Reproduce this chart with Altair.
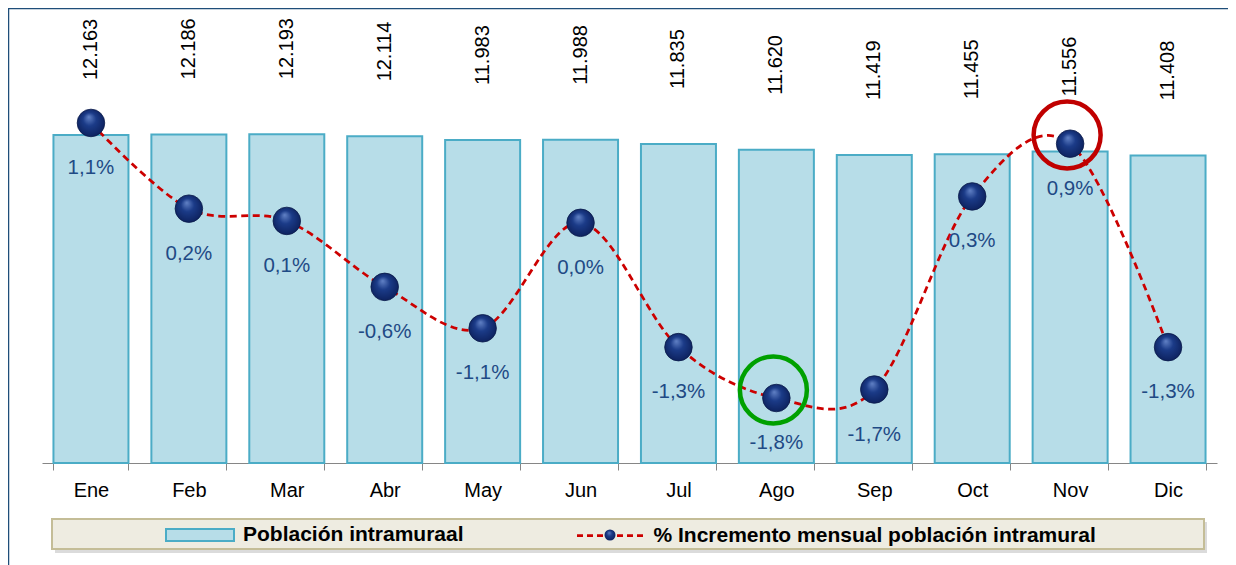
import altair as alt
import pandas as pd

# ---- datos ----
meses = ["Ene", "Feb", "Mar", "Abr", "May", "Jun", "Jul", "Ago", "Sep", "Oct", "Nov", "Dic"]
poblacion = [12163, 12186, 12193, 12114, 11983, 11988, 11835, 11620, 11419, 11455, 11556, 11408]
incremento = [1.10, 0.19, 0.06, -0.64, -1.08, 0.04, -1.28, -1.82, -1.73, 0.32, 0.88, -1.28]
serie_barras = "Población intramuraal"
serie_linea = "% Incremento mensual población intramural"
resaltado_mes = ["Ago", "Nov"]
resaltado_valor = [-1.735, 0.972]
resaltado_tipo = ["mínimo", "máximo"]
resaltado_color = ["#00A000", "#C00000"]

df = pd.DataFrame({"mes": meses, "pob": poblacion, "pct": incremento})
df_res = pd.DataFrame({"mes": resaltado_mes, "pct": resaltado_valor, "tipo": resaltado_tipo})
one = pd.DataFrame({"k": [0]})

W, H = 1175, 443
FONT = "Liberation Sans"

x = alt.X(
    "mes:N", sort=meses,
    scale=alt.Scale(domain=meses, paddingInner=0.234, paddingOuter=0.117),
    axis=alt.Axis(title=None, labelAngle=0, labelFontSize=20, labelColor="black",
                  labelFont=FONT, labelPadding=10, tickSize=7, tickColor="#868686",
                  domainColor="#868686", tickBand="extent", grid=False),
)
ybar = alt.Y("pob:Q", scale=alt.Scale(domain=[0, 16430], nice=False, zero=True), axis=None)
ypct = alt.Y("pct:Q", scale=alt.Scale(domain=[-2.51, 2.193], nice=False, zero=False), axis=None)

base = alt.Chart(df)

legend_common = dict(orient="none", title=None, labelFont=FONT, labelFontSize=21,
                     labelFontWeight="bold", labelColor="black", labelOffset=8, labelLimit=0)

bars = base.transform_calculate(sb=f"'{serie_barras}'").mark_bar(
    stroke="#4BACC6", strokeWidth=2
).encode(
    x=x, y=ybar,
    fill=alt.Fill("sb:N", scale=alt.Scale(domain=[serie_barras], range=["#B7DDE8"]),
                  legend=alt.Legend(legendX=123, legendY=480,
                                    symbolType="M-1,-0.18H1V0.18H-1Z", symbolSize=4624,
                                    symbolStrokeColor="#4BACC6", symbolStrokeWidth=2,
                                    symbolFillColor="#B7DDE8", **legend_common)),
)

bar_lbl = base.transform_calculate(
    t="replace(format(datum.pob, ','), ',', '.')"
).mark_text(angle=270, align="left", baseline="middle", dx=55, fontSize=20,
            font=FONT, color="black").encode(x=x, y=ybar, text="t:N")

line = base.transform_calculate(sl=f"'{serie_linea}'").mark_line(
    interpolate="cardinal", strokeDash=[7, 4.5], strokeWidth=2.75
).encode(
    x=x, y=ypct,
    stroke=alt.Stroke("sl:N", scale=alt.Scale(domain=[serie_linea], range=["#CC0000"]),
                      legend=alt.Legend(legendX=533.5, legendY=480.5, symbolType="stroke",
                                        symbolSize=4489, symbolStrokeWidth=2.75,
                                        symbolDash=[6, 4], **legend_common)),
)

grad = {
    "gradient": "radial", "x1": 0.42, "y1": 0.28, "r1": 0, "x2": 0.5, "y2": 0.5, "r2": 0.6,
    "stops": [
        {"offset": 0, "color": "#6282C6"},
        {"offset": 0.4, "color": "#1B3B88"},
        {"offset": 1, "color": "#0A1C55"},
    ],
}
pts = base.transform_calculate(sp="'marcador'").mark_point(
    filled=True, fill=grad, stroke="#0A1A4A", strokeWidth=0.8, size=760, opacity=1
).encode(
    x=x, y=ypct,
    shape=alt.Shape("sp:N", scale=alt.Scale(domain=["marcador"], range=["circle"]),
                    legend=alt.Legend(orient="none", legendX=561.5, legendY=508.5, title=None,
                                      symbolSize=121, symbolFillColor="#10296B",
                                      symbolStrokeColor="#10296B", labelExpr="''")),
)

pct_lbl = base.transform_calculate(
    t="(datum.pct < 0 ? '-' : '') + replace(format(abs(datum.pct), '.1f'), '.', ',') + '%'"
).mark_text(dy=45, baseline="middle", fontSize=20.5, font=FONT, color="#1F4A85").encode(
    x=x, y=ypct, text="t:N"
)

rings = alt.Chart(df_res).mark_point(
    shape="circle", filled=False, size=4489, strokeWidth=4.5, opacity=1, xOffset=-3
).encode(
    x=x, y=ypct,
    color=alt.Color("tipo:N", scale=alt.Scale(domain=resaltado_tipo, range=resaltado_color),
                    legend=None),
)

# decoración: marco y caja de la leyenda
frame_top = alt.Chart(one).mark_rule(color="#1F4E79", strokeWidth=1.5).encode(
    x=alt.value(-34), x2=alt.value(1190), y=alt.value(-11.5))
frame_left = alt.Chart(one).mark_rule(color="#1F4E79", strokeWidth=1.5).encode(
    x=alt.value(-33.5), y=alt.value(-12), y2=alt.value(560))
box_shadow = alt.Chart(one).mark_rect(fill="#000000", opacity=0.14).encode(
    x=alt.value(13), x2=alt.value(1165), y=alt.value(502), y2=alt.value(533))
box = alt.Chart(one).mark_rect(fill="#EEECE1", stroke="#C4BD97", strokeWidth=2).encode(
    x=alt.value(10), x2=alt.value(1162), y=alt.value(499), y2=alt.value(529))

chart = alt.layer(
    frame_top, frame_left, box_shadow, box, bars, bar_lbl, line, pts, pct_lbl, rings
).resolve_scale(y="independent").properties(
    width=W, height=H,
    autosize=alt.AutoSizeParams(type="none"),
    padding={"left": 34, "top": 12, "right": 11, "bottom": 102},
).configure_view(stroke=None)

chart.save("out.html", embed_options={"renderer": "svg", "actions": False})
